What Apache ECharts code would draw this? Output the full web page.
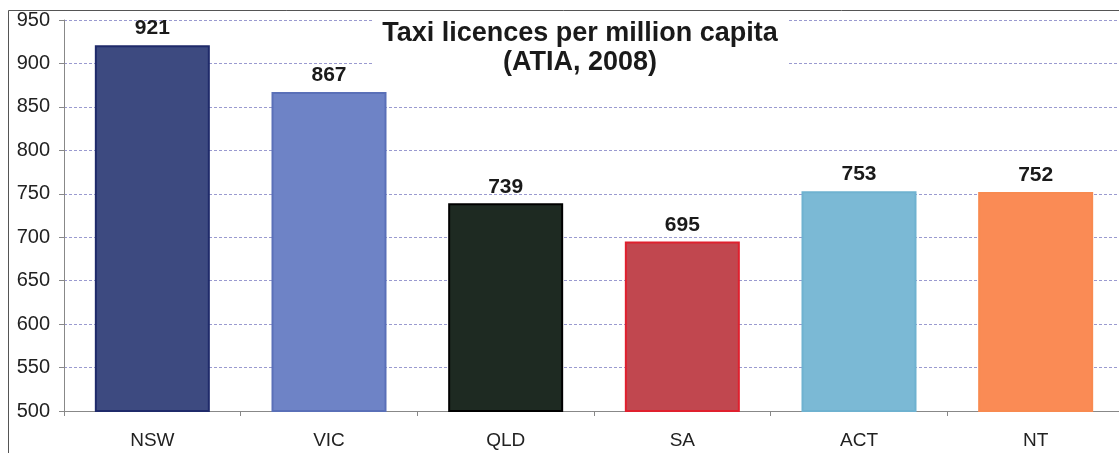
<!DOCTYPE html>
<html><head><meta charset="utf-8">
<script src="https://cdn.jsdelivr.net/npm/echarts@6/dist/echarts.min.js"></script>
<style>html,body{margin:0;padding:0;background:#fff}#c{width:1119px;height:453px}</style>
</head><body><div id="c"></div>
<script>
const categories = ['NSW','VIC','QLD','SA','ACT','NT'];
const values = [921, 867, 739, 695, 753, 752];
const fillColors = ['#3d4a80','#6e83c6','#1e2a22','#c1474f','#7bb9d5','#fa8b55'];
const borderColors = ['#1f2a6a','#5a70b8','#000000','#e0202e','#6fb2d0','#f88a50'];
const yTicks = [500,550,600,650,700,750,800,850,900,950];

const chart = echarts.init(document.getElementById('c'));
chart.setOption({
  animation: false,
  backgroundColor: '#fff',
  title: {
    text: 'Taxi licences per million capita\n(ATIA, 2008)',
    left: 570, top: 17, textAlign: 'center',
    backgroundColor: '#fff', padding: [2, 10],
    textStyle: {fontFamily: 'Liberation Sans, Arial', fontWeight: 'bold', fontSize: 27, lineHeight: 29, color: '#1a1a1a'}
  },
  graphic: [
    {type: 'line', shape: {x1: 8.5, y1: 10.5, x2: 1119, y2: 10.5}, style: {stroke: '#555', lineWidth: 1}, z: 0},
    {type: 'line', shape: {x1: 8.5, y1: 10.5, x2: 8.5, y2: 453}, style: {stroke: '#555', lineWidth: 1}, z: 0}
  ],
  grid: {left: 64, top: 20, width: 1060, height: 391, containLabel: false, outerBoundsMode: 'none'},
  xAxis: {
    type: 'category', data: categories,
    axisLine: {lineStyle: {color: '#888'}},
    axisTick: {show: true, length: 5, lineStyle: {color: '#888'}},
    axisLabel: {fontFamily: 'Liberation Sans, Arial', fontSize: 19, color: '#222', margin: 20}
  },
  yAxis: {
    type: 'value', min: 500, max: 950, interval: 50,
    axisLine: {show: true, lineStyle: {color: '#888'}},
    axisTick: {show: true, length: 5, inside: false, lineStyle: {color: '#888'}},
    axisLabel: {fontFamily: 'Liberation Sans, Arial', fontSize: 20, color: '#222', margin: 14,
      formatter: v => yTicks.includes(v) ? String(v) : ''},
    splitLine: {show: true, lineStyle: {color: '#9a9ad0', type: [3, 2], width: 1}}
  },
  series: [{
    type: 'bar',
    barWidth: 115,
    data: values.map((v, i) => ({value: v, itemStyle: {color: fillColors[i], borderColor: borderColors[i], borderWidth: 2}})),
    label: {show: true, position: 'top', distance: 6, fontFamily: 'Liberation Sans, Arial', fontWeight: 'bold', fontSize: 21, color: '#1a1a1a'}
  }]
});
</script></body></html>
